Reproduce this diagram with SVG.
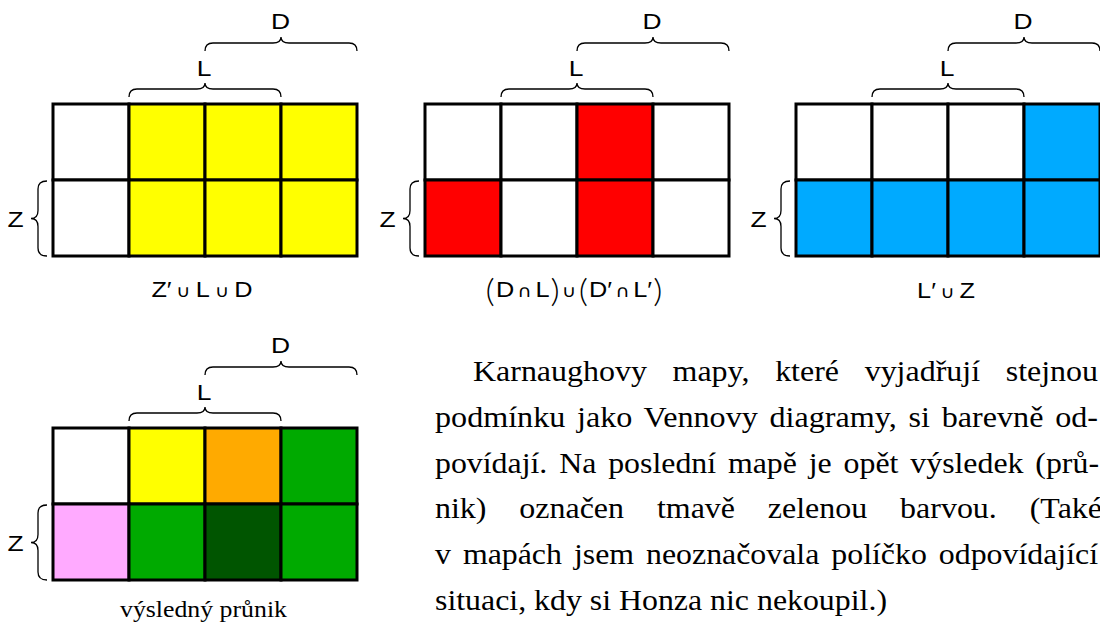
<svg xmlns="http://www.w3.org/2000/svg" xmlns:xlink="http://www.w3.org/1999/xlink" width="1100" height="628" viewBox="0 0 1100 628">
<style>
.cell{stroke:#000;stroke-width:3}
.w{fill:#fff}.y{fill:#ffff00}.r{fill:#ff0000}.b{fill:#00aaff}.o{fill:#ffaa00}.g{fill:#00aa00}.dg{fill:#005500}.p{fill:#ffaaff}
.brace{fill:none;stroke:#000;stroke-width:1.3}
.lbl{font-family:"Liberation Sans",Arial,sans-serif;font-size:22px;fill:#000;text-anchor:middle}
.op{font-family:"DejaVu Sans",sans-serif;font-size:17px}
.par{font-family:"Lato","Liberation Sans",sans-serif;font-weight:300;font-size:31px}
.ser{font-family:"Liberation Serif","Times New Roman",serif;fill:#000}
.para{font-size:28.5px}
</style>
<defs>
<path id="hb" d="M0,0 Q0,-8 8,-8 L68,-8 Q76,-8 76,-14 Q76,-8 84,-8 L144,-8 Q152,-8 152,0"/>
<path id="vb" d="M0,0 Q-9,0 -9,8 L-9,29.5 Q-9,37.5 -16,37.5 Q-9,37.5 -9,45.5 L-9,67 Q-9,75 0,75"/>
</defs>
<rect width="1100" height="628" fill="#fff"/>

<g id="map1" transform="translate(53,104)">
<rect class="cell w" x="0" y="0" width="76" height="76"/><rect class="cell y" x="76" y="0" width="76" height="76"/><rect class="cell y" x="152" y="0" width="76" height="76"/><rect class="cell y" x="228" y="0" width="76" height="76"/>
<rect class="cell w" x="0" y="76" width="76" height="76"/><rect class="cell y" x="76" y="76" width="76" height="76"/><rect class="cell y" x="152" y="76" width="76" height="76"/><rect class="cell y" x="228" y="76" width="76" height="76"/>
<use xlink:href="#hb" class="brace" transform="translate(76,-7)"/>
<use xlink:href="#hb" class="brace" transform="translate(152,-53)"/>
<use xlink:href="#vb" class="brace" transform="translate(-6,77)"/>
<text class="lbl" transform="translate(227.5,-75) scale(1.2,1)">D</text>
<text class="lbl" transform="translate(151,-28) scale(1.2,1)">L</text>
<text class="lbl" transform="translate(-37.5,123) scale(1.2,1)">Z</text>
<text class="lbl" transform="translate(149,193) scale(1.15,1)">Z′<tspan class="op" dx="4">∪</tspan><tspan dx="4.5">L</tspan><tspan class="op" dx="4.5">∪</tspan><tspan dx="4.5">D</tspan></text>
</g>

<g id="map2" transform="translate(425,104)">
<rect class="cell w" x="0" y="0" width="76" height="76"/><rect class="cell w" x="76" y="0" width="76" height="76"/><rect class="cell r" x="152" y="0" width="76" height="76"/><rect class="cell w" x="228" y="0" width="76" height="76"/>
<rect class="cell r" x="0" y="76" width="76" height="76"/><rect class="cell w" x="76" y="76" width="76" height="76"/><rect class="cell r" x="152" y="76" width="76" height="76"/><rect class="cell w" x="228" y="76" width="76" height="76"/>
<use xlink:href="#hb" class="brace" transform="translate(76,-7)"/>
<use xlink:href="#hb" class="brace" transform="translate(152,-53)"/>
<use xlink:href="#vb" class="brace" transform="translate(-6,77)"/>
<text class="lbl" transform="translate(227,-75) scale(1.2,1)">D</text>
<text class="lbl" transform="translate(151,-28) scale(1.2,1)">L</text>
<text class="lbl" transform="translate(-37.5,123) scale(1.2,1)">Z</text>
<text class="lbl" transform="translate(149,193) scale(1.15,1)"><tspan class="par" dy="5">(</tspan><tspan dy="-5" dx="1">D</tspan><tspan class="op" dx="3">∩</tspan><tspan dx="3">L</tspan><tspan class="par" dy="5" dx="1">)</tspan><tspan class="op" dy="-5" dx="2">∪</tspan><tspan class="par" dy="5" dx="2">(</tspan><tspan dy="-5" dx="1">D′</tspan><tspan class="op" dx="3">∩</tspan><tspan dx="3">L′</tspan><tspan class="par" dy="5" dx="1">)</tspan></text>
</g>

<g id="map3" transform="translate(796,104)">
<rect class="cell w" x="0" y="0" width="76" height="76"/><rect class="cell w" x="76" y="0" width="76" height="76"/><rect class="cell w" x="152" y="0" width="76" height="76"/><rect class="cell b" x="228" y="0" width="76" height="76"/>
<rect class="cell b" x="0" y="76" width="76" height="76"/><rect class="cell b" x="76" y="76" width="76" height="76"/><rect class="cell b" x="152" y="76" width="76" height="76"/><rect class="cell b" x="228" y="76" width="76" height="76"/>
<use xlink:href="#hb" class="brace" transform="translate(76,-7)"/>
<use xlink:href="#hb" class="brace" transform="translate(152,-53)"/>
<use xlink:href="#vb" class="brace" transform="translate(-6,77)"/>
<text class="lbl" transform="translate(227,-75) scale(1.2,1)">D</text>
<text class="lbl" transform="translate(151,-28) scale(1.2,1)">L</text>
<text class="lbl" transform="translate(-37.5,123) scale(1.2,1)">Z</text>
<text class="lbl" transform="translate(150,193.5) scale(1.15,1)">L′<tspan class="op" dx="4">∪</tspan><tspan dx="4">Z</tspan></text>
</g>

<g id="map4" transform="translate(53,428)">
<rect class="cell w" x="0" y="0" width="76" height="76"/><rect class="cell y" x="76" y="0" width="76" height="76"/><rect class="cell o" x="152" y="0" width="76" height="76"/><rect class="cell g" x="228" y="0" width="76" height="76"/>
<rect class="cell p" x="0" y="76" width="76" height="76"/><rect class="cell g" x="76" y="76" width="76" height="76"/><rect class="cell dg" x="152" y="76" width="76" height="76"/><rect class="cell g" x="228" y="76" width="76" height="76"/>
<use xlink:href="#hb" class="brace" transform="translate(76,-7)"/>
<use xlink:href="#hb" class="brace" transform="translate(152,-53)"/>
<use xlink:href="#vb" class="brace" transform="translate(-6,77)"/>
<text class="lbl" transform="translate(227.5,-75) scale(1.2,1)">D</text>
<text class="lbl" transform="translate(151,-28) scale(1.2,1)">L</text>
<text class="lbl" transform="translate(-37.5,123) scale(1.2,1)">Z</text>
<text class="ser" x="67" y="189" font-size="23.5" textLength="167" lengthAdjust="spacingAndGlyphs">výsledný průnik</text>
</g>

<g id="paragraph" class="ser para">
<text x="473" y="381" word-spacing="15.8" textLength="625" lengthAdjust="spacingAndGlyphs">Karnaughovy mapy, které vyjadřují stejnou</text>
<text x="435" y="427" word-spacing="3.3" textLength="663" lengthAdjust="spacingAndGlyphs">podmínku jako Vennovy diagramy, si barevně od-</text>
<text x="435" y="472.5" word-spacing="3.5" textLength="664" lengthAdjust="spacingAndGlyphs">povídají. Na poslední mapě je opět výsledek (prů-</text>
<text x="435" y="518" word-spacing="22.2" textLength="667" lengthAdjust="spacingAndGlyphs">nik) označen tmavě zelenou barvou. (Také</text>
<text x="435" y="564" word-spacing="3.6" textLength="663" lengthAdjust="spacingAndGlyphs">v mapách jsem neoznačovala políčko odpovídající</text>
<text x="435" y="610" textLength="452" lengthAdjust="spacingAndGlyphs">situaci, kdy si Honza nic nekoupil.)</text>
</g>
</svg>
